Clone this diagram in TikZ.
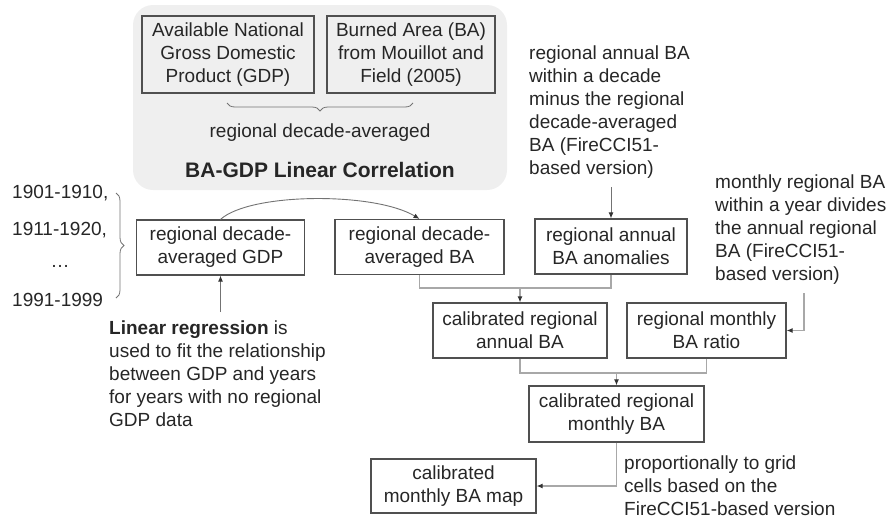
\documentclass[tikz,border=0pt]{standalone}
\usepackage{fontspec}
\setmainfont{Liberation Sans}
\usetikzlibrary{arrows.meta,decorations.pathreplacing}
\definecolor{txt}{HTML}{262626}
\definecolor{bord}{HTML}{505050}
\definecolor{conn}{HTML}{A8A8A8}
\definecolor{panel}{HTML}{EFEFEF}
\tikzset{
  box/.style={draw=bord,line width=1.2pt,align=center,inner sep=0pt,text=txt,
    font=\fontsize{19}{23}\selectfont},
  lbl/.style={align=left,inner sep=0pt,text=txt,font=\fontsize{19}{23}\selectfont},
  connline/.style={draw=conn,line width=1.1pt},
  arr/.style={connline,-{Latex[length=6pt,width=5pt,color=black!80]}},
  brc/.style={draw=black!55,line width=0.8pt,decorate,decoration={brace,amplitude=8pt}}
}
\begin{document}
\begin{tikzpicture}[x=1pt,y=-1pt]
\useasboundingbox (0,0) rectangle (893,520);
% panel
\fill[panel,rounded corners=20pt] (133,5) rectangle (507,190);
\node[box,minimum width=172pt,minimum height=77pt] (gdpsrc) at (228,54.5)
  {Available National\\Gross Domestic\\Product (GDP)};
\node[box,minimum width=168pt,minimum height=77pt] (basrc) at (411,54.5)
  {Burned Area (BA)\\from Mouillot and\\Field (2005)};
\draw[brc] (413,103) -- (227,103);
\node[lbl,anchor=center] (rda) at (320,133) {regional decade-averaged};
\node[lbl,anchor=center,font=\fontsize{21}{25}\selectfont\bfseries] (title) at (320,170)
  {BA-GDP Linear Correlation};
% years
\node[lbl,anchor=west] (y1) at (12,193) {1901-1910,};
\node[lbl,anchor=west] (y2) at (12,230) {1911-1920,};
\node[lbl,anchor=center] (y3) at (60,266) {\dots};
\node[lbl,anchor=west] (y4) at (12,300) {1991-1999};
\draw[brc] (116,193) -- (116,298);
% row 1
\node[box,minimum width=168pt,minimum height=55pt] (gdp) at (220.5,247.5)
  {regional decade-\\averaged GDP};
\node[box,minimum width=169pt,minimum height=55pt] (ba) at (419.5,247)
  {regional decade-\\averaged BA};
\node[box,minimum width=152pt,minimum height=55pt] (anom) at (611,246.5)
  {regional annual\\BA anomalies};
\node[lbl,anchor=west] (anomtxt) at (529,112)
  {regional annual BA\\within a decade\\minus the regional\\decade-averaged\\BA (FireCCI51-\\based version)};
\node[lbl,anchor=west] (ratiotxt) at (715,229.5)
  {monthly regional BA\\within a year divides\\the annual regional\\BA (FireCCI51-\\based version)};
\node[lbl,anchor=west] (regtxt) at (109,373.5)
  {\textbf{Linear regression} is\\used to fit the relationship\\between GDP and years\\for years with no regional\\GDP data};
% row 2
\node[box,minimum width=174pt,minimum height=55pt] (cal) at (520,330.5)
  {calibrated regional\\annual BA};
\node[box,minimum width=159pt,minimum height=55pt] (ratio) at (706.5,330.5)
  {regional monthly\\BA ratio};
% row 3
\node[box,minimum width=175pt,minimum height=56pt] (mba) at (616.5,414)
  {calibrated regional\\monthly BA};
\node[box,minimum width=165pt,minimum height=54pt] (map) at (453.5,486)
  {calibrated\\monthly BA map};
\node[lbl,anchor=west] (proptxt) at (624,486)
  {proportionally to grid\\cells based on the\\FireCCI51-based version};
% connectors
\draw[arr,draw=black!55,line width=0.9pt] (gdp.north) .. controls +(30,-27) and +(-45,-27) .. (ba.north);
\coordinate (a1) at (611,187);
\draw[arr,draw=black!55,line width=0.9pt] (a1) -- (anom.north);
\coordinate (m1) at (520,288);
\draw[connline] (ba.south) |- (m1) -| (anom.south);
\draw[arr] (m1) -- (cal.north);
\coordinate (r1) at (804,293);
\draw[arr] (r1) |- (ratio.east);
\coordinate (m2) at (616.5,373);
\draw[connline] (cal.south) |- (m2) -| (ratio.south);
\draw[arr] (m2) -- (mba.north);
\draw[arr] (mba.south) |- (map.east);
\coordinate (r2) at (220.5,312);
\draw[arr,draw=black!55,line width=0.9pt] (r2) -- (gdp.south);
\end{tikzpicture}
\end{document}
